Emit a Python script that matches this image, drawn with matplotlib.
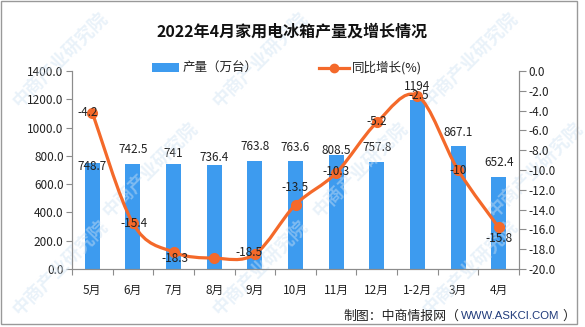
import matplotlib
matplotlib.use('Agg')
import matplotlib.pyplot as plt
from matplotlib.patches import Rectangle, PathPatch
from matplotlib.path import Path
from matplotlib.lines import Line2D
import numpy as np

plt.rcParams['font.family'] = ['Noto Sans CJK SC', 'DejaVu Sans']

# Data
months = ['5月', '6月', '7月', '8月', '9月', '10月', '11月', '12月', '1-2月', '3月', '4月']
output = [748.7, 742.5, 741, 736.4, 763.8, 763.6, 808.5, 757.8, 1194, 867.1, 652.4]
growth = [-4.2, -15.4, -18.3, -18.9, -18.5, -13.5, -10.3, -5.2, -2.5, -10, -15.8]
left_ticks = [0, 200, 400, 600, 800, 1000, 1200, 1400]
right_ticks = [0, -2, -4, -6, -8, -10, -12, -14, -16, -18, -20]

# label offsets (pixels) - labels moved like in the original
bar_lab_dy = [-3, 14, 11, 7, 14, 14, 4, 14, 14, 14, 14]
line_lab_off = [(-5, 0), (1, 0), (1, -6), None, (-6, 2), (0, 17), (0, 1), (0, 1), (1, 0), (0, 0), (0, -11)]

W, H = 585, 327
BLUE = '#3d9bef'
ORANGE = '#f4692a'
GREY = '#8c8c8c'


def fx(px):
    return px / W


def fy(py):
    return 1 - py / H


fig = plt.figure(figsize=(W / 100, H / 100), dpi=100)
ax = fig.add_axes([fx(72), fy(269), fx(519) - fx(72), fy(71) - fy(269)])
ax2 = ax.twinx()

x = np.arange(len(months))

# watermark
for cx, cy in [(60, 60), (260, 60), (470, 60), (150, 170), (360, 170), (535, 170), (60, 268), (260, 268), (470, 268)]:
    fig.text(fx(cx), fy(cy), '中商产业研究院', rotation=45, fontsize=13, fontweight='bold',
             color='#cfe2f3', alpha=0.45, ha='center', va='center', zorder=0)

# bars
ax.bar(x, output, width=0.37, color=BLUE, zorder=2)
ax.set_xlim(-0.5, len(months) - 0.5)
ax.set_ylim(0, 1400)
ax.set_yticks(left_ticks)
ax.set_yticklabels([f'{v:.1f}' for v in left_ticks])
for i, v in enumerate(output):
    ax.annotate(f'{v:g}', (x[i], v), xytext=(0, bar_lab_dy[i] * 0.72), textcoords='offset points',
                ha='center', va='center', fontsize=8.5, color='#222222', zorder=5)

# smooth line through the points (Catmull-Rom as bezier)
pts = np.column_stack([x, growth]).astype(float)
verts = [tuple(pts[0])]
codes = [Path.MOVETO]
n = len(pts)
for i in range(n - 1):
    p0 = pts[max(i - 1, 0)]
    p1 = pts[i]
    p2 = pts[i + 1]
    p3 = pts[min(i + 2, n - 1)]
    c1 = p1 + (p2 - p0) / 6
    c2 = p2 - (p3 - p1) / 6
    verts += [tuple(c1), tuple(c2), tuple(p2)]
    codes += [Path.CURVE4] * 3
ax2.add_patch(PathPatch(Path(verts, codes), facecolor='none', edgecolor=ORANGE, lw=2.3, zorder=3))
ax2.plot(x, growth, 'o', color=ORANGE, markersize=7, zorder=4)
ax2.set_ylim(-20, 0)
ax2.set_yticks(right_ticks)
ax2.set_yticklabels([f'{v:.1f}' for v in right_ticks])
for i, v in enumerate(growth):
    if line_lab_off[i] is None:
        continue
    dx, dy = line_lab_off[i]
    ax2.annotate(f'{v:g}', (x[i], v), xytext=(dx * 0.72, dy * 0.72), textcoords='offset points',
                 ha='center', va='center', fontsize=8.5, color='#222222', zorder=6)

# axes styling
ax.set_xticks(np.arange(-0.5, len(months), 1))
ax.set_xticklabels([])
ax.set_xticks(x, minor=True)
ax.set_xticklabels(months, minor=True)
ax.tick_params(axis='x', which='major', length=4, color=GREY, direction='out')
ax.tick_params(axis='x', which='minor', length=0, pad=11, labelsize=8.5, labelcolor='#222222')
ax.tick_params(axis='y', length=4, color=GREY, labelsize=8.5, labelcolor='#222222', pad=2)
ax2.tick_params(axis='y', length=5, color=GREY, labelsize=8.5, labelcolor='#222222', pad=2)
for a in (ax, ax2):
    a.spines['top'].set_visible(False)
    for s in ('left', 'right', 'bottom'):
        a.spines[s].set_color(GREY)
    a.set_facecolor('none')
ax.set_zorder(ax2.get_zorder() - 1)
ax2.set_zorder(1)

# title
fig.text(0.5, fy(32), '2022年4月家用电冰箱产量及增长情况', ha='center', va='center',
         fontsize=11.5, fontweight='bold', color='#111111')

# legend
fig.patches.append(Rectangle((fx(152), fy(72)), fx(179) - fx(152), fy(63) - fy(72),
                             transform=fig.transFigure, facecolor=BLUE, edgecolor='none'))
fig.text(fx(183), fy(68), '产量（万台）', ha='left', va='center', fontsize=9, color='#222222')
fig.lines.append(Line2D([fx(319), fx(349)], [fy(68), fy(68)], transform=fig.transFigure,
                        color=ORANGE, lw=2.3, marker=None))
fig.lines.append(Line2D([fx(334)], [fy(68)], transform=fig.transFigure,
                        color=ORANGE, marker='o', markersize=6))
fig.text(fx(352), fy(68), '同比增长(%)', ha='left', va='center', fontsize=9, color='#222222')

# footer
fig.text(fx(459), fy(316), '制图：中商情报网（', ha='right', va='center', fontsize=9.3, color='#222222')
fig.text(fx(461), fy(316), 'WWW.ASKCI.COM', ha='left', va='center', fontsize=8.2,
         family='Liberation Sans', color='#1f3a7a')
fig.text(fx(562), fy(316), '）', ha='left', va='center', fontsize=9.3, color='#222222')

# frame
fig.patches.append(Rectangle((fx(1), fy(324)), fx(577) - fx(1), fy(1) - fy(324),
                             transform=fig.transFigure, fill=False, edgecolor='#999999', lw=1))

fig.savefig('out.png', dpi=100)
